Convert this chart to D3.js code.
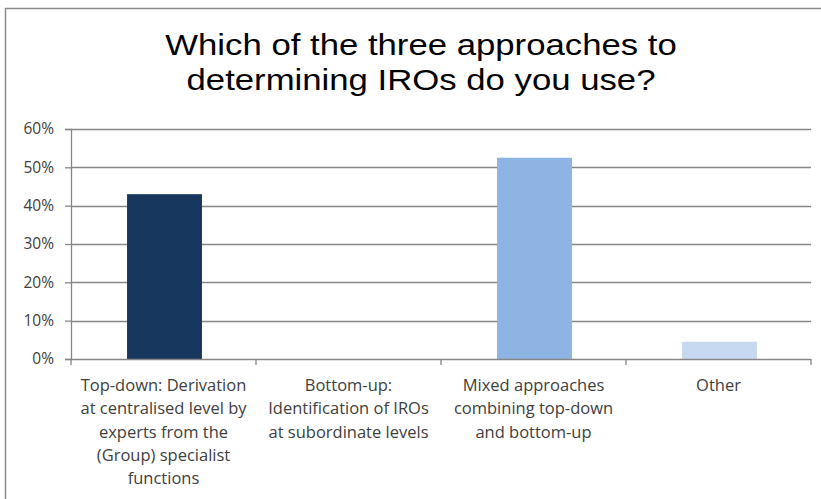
<!DOCTYPE html>
<html>
<head>
<meta charset="utf-8">
<script src="https://cdn.jsdelivr.net/npm/d3@7"></script>
<style>
  body { margin: 0; background: #fff; }
  svg { display: block; }
</style>
</head>
<body>
<svg></svg>
<script>
const width = 821
const height = 499

// data
const categories = ['topdown', 'bottomup', 'mixed', 'other']
const labelLines = [
  ['Top-down: Derivation', 'at centralised level by', 'experts from the', '(Group) specialist', 'functions'],
  ['Bottom-up:', 'Identification of IROs', 'at subordinate levels'],
  ['Mixed approaches', 'combining top-down', 'and bottom-up'],
  ['Other']
]
const values = [0.43, 0, 0.525, 0.045]
const barColors = ['#17375E', '#17375E', '#8DB4E2', '#C6D9F1']
const yTicks = [0, 0.1, 0.2, 0.3, 0.4, 0.5, 0.6]
const titleLines = ['Which of the three approaches to', 'determining IROs do you use?']

const margin = { top: 129, right: 10, bottom: 140, left: 71 }

const svg = d3.select('svg').attr('width', width).attr('height', height)

// outer chart border
svg.append('rect')
  .attr('x', 5.5).attr('y', 8.5)
  .attr('width', width + 10).attr('height', height + 10)
  .attr('fill', 'none')
  .attr('stroke', '#8c8c8c')
  .attr('stroke-width', 1.5)

const x = d3.scaleBand()
  .domain(categories)
  .range([margin.left, width - margin.right])
  .paddingInner(0.595)
  .paddingOuter(0.2975)

const y = d3.scaleLinear()
  .domain([0, 0.6])
  .range([359, margin.top])

// gridlines
svg.append('g')
  .selectAll('line')
  .data(yTicks.filter(d => d > 0))
  .enter().append('line')
  .attr('x1', margin.left).attr('x2', width - margin.right)
  .attr('y1', d => Math.round(y(d)) + 0.5).attr('y2', d => Math.round(y(d)) + 0.5)
  .style('stroke', '#868686')
  .style('stroke-width', '1.3px')

// bars
svg.append('g')
  .selectAll('rect')
  .data(values)
  .enter().append('rect')
  .attr('x', (d, i) => x(categories[i]) + 1)
  .attr('width', x.bandwidth())
  .attr('y', d => y(d))
  .attr('height', d => y(0) - y(d))
  .attr('fill', (d, i) => barColors[i])

// y axis
const yAxis = svg.append('g')
  .attr('transform', `translate(${margin.left},0)`)
  .call(d3.axisLeft(y).tickValues(yTicks).tickFormat(d3.format('.0%')).tickSize(6).tickPadding(11))
yAxis.select('.domain').attr('stroke', '#868686').attr('stroke-width', 1.3)
yAxis.selectAll('.tick line').attr('stroke', '#868686').attr('stroke-width', 1.3)
yAxis.selectAll('.tick text')
  .style('font-family', '"Open Sans", sans-serif')
  .style('font-size', '15.5px')
  .attr('fill', '#404040')

// x axis line and band ticks
const bandEdges = categories.map(c => x(c) - x.step() * x.paddingInner() / 2)
bandEdges.push(width - margin.right)
svg.append('line')
  .attr('x1', margin.left).attr('x2', width - margin.right)
  .attr('y1', y(0) + 0.5).attr('y2', y(0) + 0.5)
  .style('stroke', '#868686').style('stroke-width', '1.3px')
svg.append('g')
  .selectAll('line')
  .data(bandEdges)
  .enter().append('line')
  .attr('x1', d => d).attr('x2', d => d)
  .attr('y1', y(0)).attr('y2', y(0) + 6)
  .style('stroke', '#868686').style('stroke-width', '1.3px')

// category labels
const labels = svg.append('g')
  .selectAll('text')
  .data(categories)
  .enter().append('text')
  .attr('x', d => x(d) + x.bandwidth() / 2)
  .attr('y', 391)
  .attr('text-anchor', 'middle')
  .style('font-family', '"Open Sans", sans-serif')
  .style('font-size', '16.5px')
  .attr('fill', '#404040')
labels.each(function (d, i) {
  d3.select(this).selectAll('tspan')
    .data(labelLines[i])
    .enter().append('tspan')
    .attr('x', x(d) + x.bandwidth() / 2)
    .attr('dy', (t, j) => j === 0 ? 0 : 23.3)
    .text(t => t)
})

// title (the original is drawn a bit wide)
svg.append('text')
  .attr('transform', 'translate(421,0) scale(1.158,1)')
  .attr('y', 55)
  .attr('text-anchor', 'middle')
  .style('font-family', '"Liberation Sans", Arial, sans-serif')
  .style('font-size', '30px')
  .attr('fill', '#000')
  .selectAll('tspan')
  .data(titleLines)
  .enter().append('tspan')
  .attr('x', 0)
  .attr('dy', (t, j) => j === 0 ? 0 : 35)
  .text(t => t)
</script>
</body>
</html>
